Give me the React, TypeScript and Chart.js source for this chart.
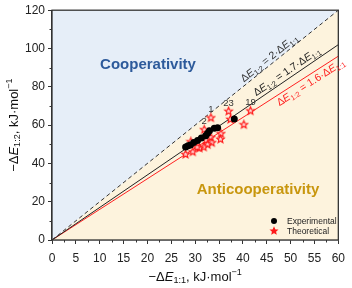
import React, { useEffect, useRef } from "react";
import { Chart, registerables } from "chart.js";

Chart.register(...registerables);

const expX = [28.0, 28.5, 29.0, 29.7, 30.5, 31.3, 32.2, 32.6, 33.0, 34.0, 34.7, 38.2];
const expY = [48.5, 49.2, 49.6, 50.9, 52.0, 53.3, 54.4, 55.7, 57.0, 58.3, 58.6, 63.2];

const theoX = [33.3, 37.0, 41.6, 31.9, 37.4, 40.2, 29.1, 35.4, 35.3, 33.3, 33.5, 32.3, 32.6, 31.8, 30.9, 30.4, 29.5, 28.0];
const theoY = [63.8, 67.2, 67.4, 57.6, 63.0, 60.2, 51.3, 55.5, 52.6, 53.5, 50.8, 52.0, 49.8, 48.5, 48.0, 48.4, 46.0, 44.7];
const theoLabels = ["1", "23", "19", "2", "", "", "", "", "", "", "", "", "", "", "", "", "", ""];

const slopes = [2, 1.7, 1.6];
const slopeText = ["2", "1.7", "1.6"];
const xTicks = [0, 5, 10, 15, 20, 25, 30, 35, 40, 45, 50, 55, 60];
const yTicks = [0, 20, 40, 60, 80, 100, 120];

const FONT = "'Liberation Sans', Arial, sans-serif";
const BLUE_BG = "#e6eef8";
const BEIGE_BG = "#fdf3dd";

type Part = { t: string; i?: boolean; sub?: boolean; sup?: boolean };

function richWidth(ctx: CanvasRenderingContext2D, parts: Part[], size: number) {
  let w = 0;
  for (const p of parts) {
    const s = p.sub || p.sup ? size * 0.7 : size;
    ctx.font = `${p.i ? "italic " : ""}${s}px ${FONT}`;
    w += ctx.measureText(p.t).width;
  }
  return w;
}

function drawRich(ctx: CanvasRenderingContext2D, parts: Part[], x: number, y: number, size: number) {
  let cx = x;
  ctx.textBaseline = "middle";
  ctx.textAlign = "left";
  for (const p of parts) {
    const s = p.sub || p.sup ? size * 0.7 : size;
    ctx.font = `${p.i ? "italic " : ""}${s}px ${FONT}`;
    const dy = p.sub ? size * 0.3 : p.sup ? -size * 0.35 : 0;
    ctx.fillText(p.t, cx, y + dy);
    cx += ctx.measureText(p.t).width;
  }
}

function makeStar(fill: string, stroke: string, r: number) {
  const c = document.createElement("canvas");
  const size = Math.ceil(r * 2 + 3);
  c.width = size;
  c.height = size;
  const g = c.getContext("2d")!;
  const cx = size / 2, cy = size / 2;
  g.beginPath();
  for (let k = 0; k < 10; k++) {
    const rr = k % 2 === 0 ? r : r * 0.45;
    const a = -Math.PI / 2 + (k * Math.PI) / 5;
    const px = cx + rr * Math.cos(a), py = cy + rr * Math.sin(a);
    if (k === 0) g.moveTo(px, py); else g.lineTo(px, py);
  }
  g.closePath();
  g.fillStyle = fill;
  g.fill();
  g.lineWidth = 1.2;
  g.strokeStyle = stroke;
  g.stroke();
  return c;
}

export default function App() {
  const ref = useRef<HTMLCanvasElement>(null);
  useEffect(() => {
    const canvas = ref.current!;
    const star = makeStar("rgba(255,215,215,0.9)", "#ff1a1a", 4);
    const legendStar = makeStar("#ff1a1a", "#ff1a1a", 3.2);

    const lineData = (m: number) => [{ x: 0, y: 0 }, { x: 60, y: 60 * m }];

    const deco = {
      id: "deco",
      afterDraw(chart: any) {
        const ctx: CanvasRenderingContext2D = chart.ctx;
        const a = chart.chartArea;
        const xs = chart.scales.x, ys = chart.scales.y;
        ctx.save();
        // frame
        ctx.strokeStyle = "#333";
        ctx.lineWidth = 1.3;
        ctx.strokeRect(a.left, a.top, a.right - a.left, a.bottom - a.top);
        // minor ticks
        ctx.lineWidth = 1;
        ctx.beginPath();
        for (let v = 2.5; v < 60; v += 5) {
          const px = Math.round(xs.getPixelForValue(v)) + 0.5;
          ctx.moveTo(px, a.bottom);
          ctx.lineTo(px, a.bottom + 2.5);
        }
        for (let v = 10; v < 120; v += 20) {
          const py = Math.round(ys.getPixelForValue(v)) + 0.5;
          ctx.moveTo(a.left, py);
          ctx.lineTo(a.left - 2.5, py);
        }
        ctx.stroke();

        // line labels
        const colors = ["#333", "#222", "#ff2020"];
        const centers = [46.3, 50, 53.4];
        const offs = [-5.5, -6.5, 7.5];
        slopes.forEach((m, k) => {
          const x0 = xs.getPixelForValue(0), y0 = ys.getPixelForValue(0);
          const x1 = xs.getPixelForValue(60), y1 = ys.getPixelForValue(60 * m);
          const ang = Math.atan2(y1 - y0, x1 - x0);
          const cx = xs.getPixelForValue(centers[k]);
          const cy = ys.getPixelForValue(centers[k] * m);
          const parts: Part[] = [
            { t: "Δ" }, { t: "E", i: true }, { t: "1:2", sub: true },
            { t: ` = ${slopeText[k]}·Δ` }, { t: "E", i: true }, { t: "1:1", sub: true },
          ];
          const size = 10.5;
          const w = richWidth(ctx, parts, size);
          ctx.save();
          ctx.translate(cx, cy);
          ctx.rotate(ang);
          ctx.fillStyle = colors[k];
          drawRich(ctx, parts, -w / 2, offs[k], size);
          ctx.restore();
        });

        // point labels
        ctx.fillStyle = "#333";
        ctx.font = `9.5px ${FONT}`;
        ctx.textAlign = "center";
        ctx.textBaseline = "alphabetic";
        theoLabels.forEach((l, k) => {
          if (!l) return;
          ctx.fillText(l, xs.getPixelForValue(theoX[k]), ys.getPixelForValue(theoY[k]) - 5.5);
        });

        // region texts
        ctx.font = `bold 15px ${FONT}`;
        ctx.textBaseline = "middle";
        ctx.fillStyle = "#2d5a9b";
        ctx.fillText("Cooperativity", 148, 65);
        ctx.fillStyle = "#c8960e";
        ctx.fillText("Anticooperativity", 258, 190);

        // legend
        ctx.fillStyle = "#000";
        ctx.beginPath();
        ctx.arc(274, 221, 3, 0, Math.PI * 2);
        ctx.fill();
        ctx.drawImage(legendStar, 274 - legendStar.width / 2, 231 - legendStar.height / 2);
        ctx.fillStyle = "#222";
        ctx.font = `8.5px ${FONT}`;
        ctx.textAlign = "left";
        ctx.fillText("Experimental", 287, 221.5);
        ctx.fillText("Theoretical", 287, 231.5);

        // axis titles
        const tparts = (s: string): Part[] => [
          { t: "−Δ" }, { t: "E", i: true }, { t: s, sub: true }, { t: ", kJ·mol" }, { t: "−1", sup: true },
        ];
        ctx.fillStyle = "#111";
        const xt = tparts("1:1");
        const xw = richWidth(ctx, xt, 13);
        drawRich(ctx, xt, (a.left + a.right) / 2 - xw / 2, 277, 13);
        const yt = tparts("1:2");
        const yw = richWidth(ctx, yt, 13);
        ctx.save();
        ctx.translate(14, (a.top + a.bottom) / 2);
        ctx.rotate(-Math.PI / 2);
        drawRich(ctx, yt, -yw / 2, 0, 13);
        ctx.restore();
        ctx.restore();
      },
    };

    const chart = new Chart(canvas, {
      type: "line",
      data: {
        datasets: [
          {
            label: "theo",
            data: theoX.map((x, k) => ({ x, y: theoY[k] })),
            showLine: false,
            pointStyle: star as any,
            pointRadius: 4,
            order: 1,
          } as any,
          {
            label: "exp",
            data: expX.map((x, k) => ({ x, y: expY[k] })),
            showLine: false,
            pointStyle: "circle",
            pointRadius: 3.5,
            backgroundColor: "#000",
            borderColor: "#000",
            borderWidth: 0,
            order: 0,
          },
          {
            label: "l2",
            data: lineData(slopes[0]),
            borderColor: "#333",
            borderWidth: 1,
            borderDash: [4, 3],
            pointRadius: 0,
            fill: false,
            order: 3,
          },
          {
            label: "l17",
            data: lineData(slopes[1]),
            borderColor: "#222",
            borderWidth: 1,
            pointRadius: 0,
            fill: false,
            order: 3,
          },
          {
            label: "l16",
            data: lineData(slopes[2]),
            borderColor: "#ff2020",
            borderWidth: 1,
            pointRadius: 0,
            fill: false,
            order: 3,
          },
          {
            label: "bgTop",
            data: lineData(slopes[0]),
            borderWidth: 0,
            pointRadius: 0,
            backgroundColor: BLUE_BG,
            fill: "end",
            order: 10,
          },
          {
            label: "bgBottom",
            data: lineData(slopes[0]),
            borderWidth: 0,
            pointRadius: 0,
            backgroundColor: BEIGE_BG,
            fill: "start",
            order: 10,
          },
        ],
      },
      options: {
        animation: false,
        responsive: false,
        devicePixelRatio: 1,
        layout: { padding: { top: 7, right: 9, left: 0, bottom: 0 } },
        plugins: { legend: { display: false }, tooltip: { enabled: false } },
        scales: {
          x: {
            type: "linear",
            min: 0,
            max: 60,
            afterFit: (s: any) => { s.height = 48; },
            afterBuildTicks: (s: any) => { s.ticks = xTicks.map((v) => ({ value: v })); },
            ticks: { color: "#222", font: { family: FONT, size: 12 }, padding: 7, maxRotation: 0, autoSkip: false },
            grid: { drawOnChartArea: false, drawTicks: true, tickLength: 4, color: "#333", lineWidth: 1 },
            border: { display: true, color: "#333", width: 1.3 },
          },
          y: {
            type: "linear",
            min: 0,
            max: 120,
            afterFit: (s: any) => { s.width = 52; },
            afterBuildTicks: (s: any) => { s.ticks = yTicks.map((v) => ({ value: v })); },
            ticks: { color: "#222", font: { family: FONT, size: 12 }, padding: 3 },
            grid: { drawOnChartArea: false, drawTicks: true, tickLength: 4, color: "#333", lineWidth: 1 },
            border: { display: true, color: "#333", width: 1.3 },
          },
        },
      },
      plugins: [deco],
    });
    return () => chart.destroy();
  }, []);
  return (
    <div style={{ position: "fixed", left: 0, top: 0, width: 352, height: 288, background: "#fff" }}>
      <canvas ref={ref} width={352} height={288} style={{ display: "block", width: 352, height: 288 }} />
    </div>
  );
}
